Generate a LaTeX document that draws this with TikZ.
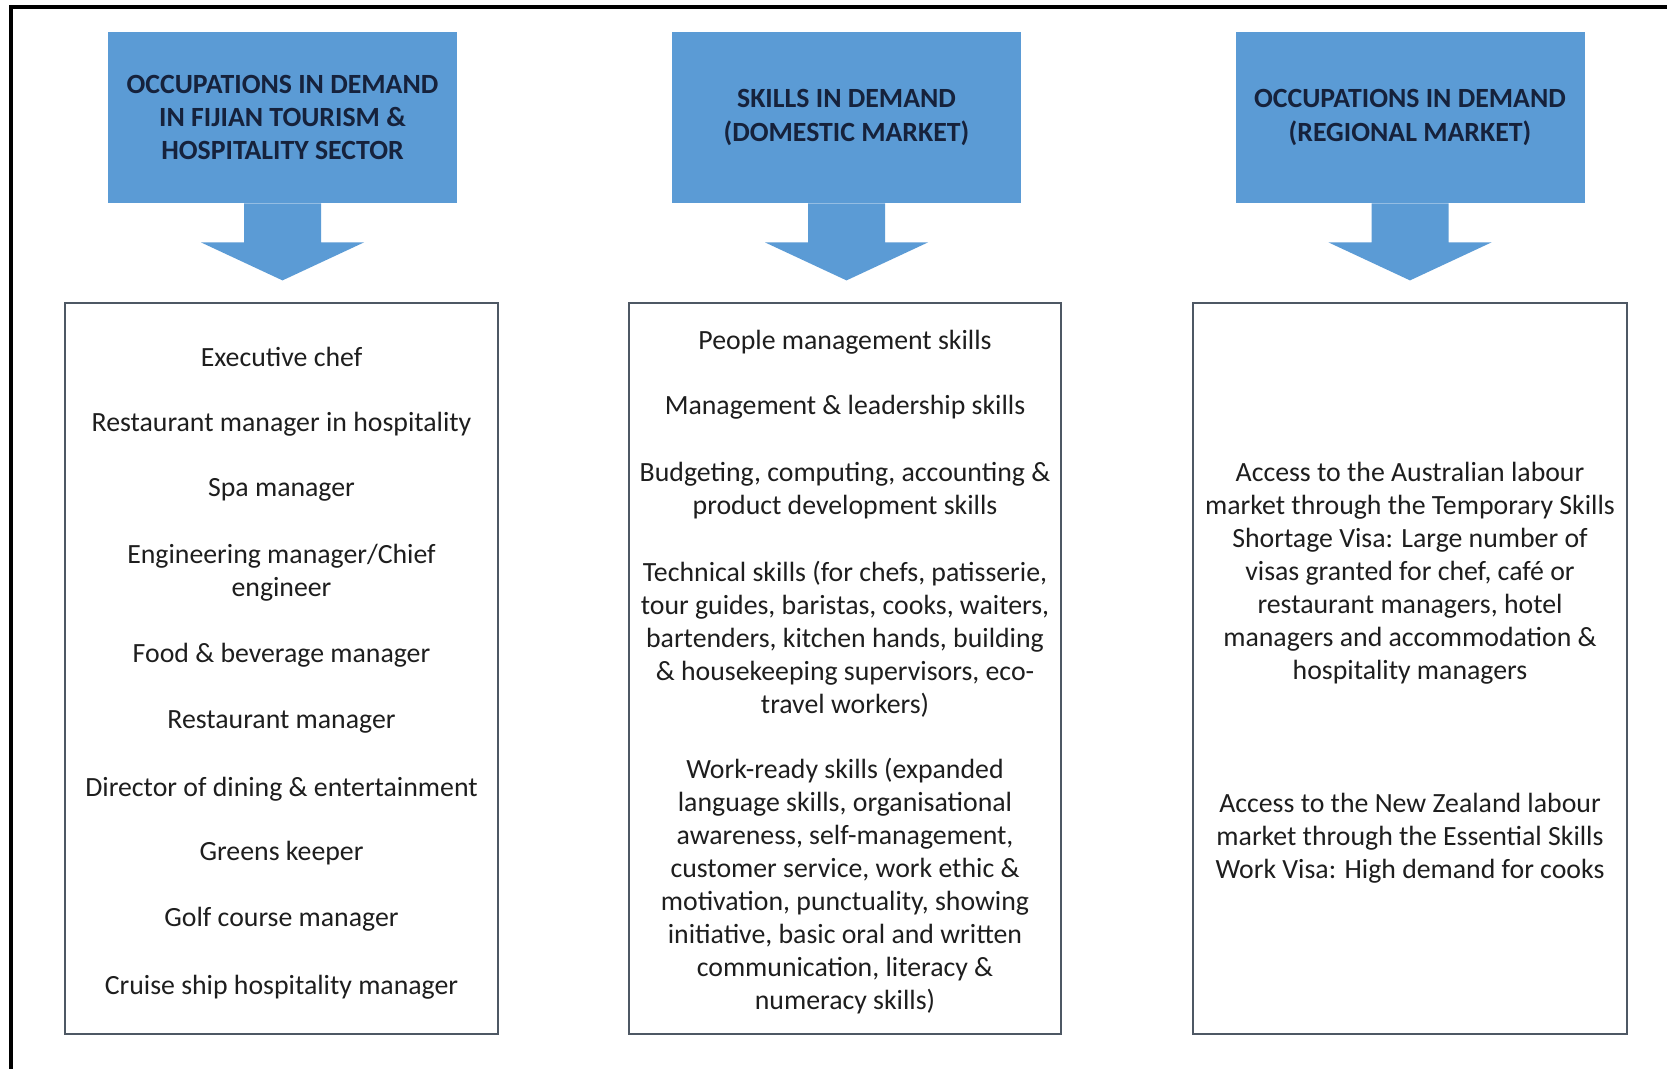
\documentclass[tikz,border=0pt]{standalone}
\usepackage{fontspec}
\setmainfont{Carlito}
\usetikzlibrary{calc}
\definecolor{hdrblue}{RGB}{91,155,213}
\definecolor{hdrtext}{RGB}{22,34,60}
\definecolor{boxline}{RGB}{78,88,100}
\definecolor{bodytext}{RGB}{30,30,30}
\begin{document}
\begin{tikzpicture}[x=0.5pt,y=-0.5pt,
  font=\fontsize{13.9pt}{16.5pt}\selectfont,
  headbox/.style={fill=hdrblue, inner sep=0pt, minimum width=174.5pt,
    minimum height=85.5pt, align=center, text=hdrtext, font=\fontsize{13.9pt}{16.6pt}\selectfont\bfseries},
  listbox/.style={draw=boxline, line width=1.3pt, fill=white, inner sep=0pt,
    minimum height=365.5pt},
  item/.style={align=center, text=bodytext, inner sep=0pt},
  downarrow/.style={fill=hdrblue}
]
\useasboundingbox (0,0) rectangle (1667,1069);
\fill[white] (0,0) rectangle (1667,1069);

% outer frame (top and left edges)
\draw[line width=2pt] (11,1069) -- (11,7) -- (1667,7);

% column headers
\node[headbox] (h1) at (282.5,117.5) {OCCUPATIONS IN DEMAND\\IN FIJIAN TOURISM \&\\HOSPITALITY SECTOR};
\node[headbox] (h2) at (846.5,117.5) {SKILLS IN DEMAND\\(DOMESTIC MARKET)};
\node[headbox] (h3) at (1410,117.5) {OCCUPATIONS IN DEMAND\\(REGIONAL MARKET)};

% block arrows below each header
\foreach \h in {h1,h2,h3}{
  \fill[downarrow] ($(\h.south)+(-38.5,0)$) -- ($(\h.south)+(38.5,0)$)
    -- ($(\h.south)+(38.5,39)$) -- ($(\h.south)+(81.5,39)$)
    -- ($(\h.south)+(0,77)$) -- ($(\h.south)+(-81.5,39)$)
    -- ($(\h.south)+(-38.5,39)$) -- cycle;
}

% list boxes
\node[listbox, minimum width=216.5pt] (b1) at (281.5,668.5) {};
\node[listbox, minimum width=216pt] (b2) at (845,668.5) {};
\node[listbox, minimum width=217pt] (b3) at (1410,668.5) {};

% occupations in the Fijian sector
\node[item] (o1)  at (281.5,357) {Executive chef};
\node[item] (o2)  at (281.5,424) {Restaurant manager in hospitality};
\node[item] (o3)  at (281.5,490) {Spa manager};
\node[item] (o4)  at (281.5,572.5) {Engineering manager/Chief\\engineer};
\node[item] (o5)  at (281.5,655) {Food \& beverage manager};
\node[item] (o6)  at (281.5,722) {Restaurant manager};
\node[item] (o7)  at (281.5,789) {Director of dining \& entertainment};
\node[item] (o8)  at (281.5,853) {Greens keeper};
\node[item] (o9)  at (281.5,919) {Golf course manager};
\node[item] (o10) at (281.5,987) {Cruise ship hospitality manager};

% domestic skills
\node[item] (s1) at (845,342) {People management skills};
\node[item] (s2) at (845,407) {Management \& leadership skills};
\node[item] (s3) at (845,490.5) {Budgeting, computing, accounting \&\\product development skills};
\node[item] (s4) at (845,639.5) {Technical skills (for chefs, patisserie,\\tour guides, baristas, cooks, waiters,\\bartenders, kitchen hands, building\\\& housekeeping supervisors, eco-\\travel workers)};
\node[item] (s5) at (845,886) {Work-ready skills (expanded\\language skills, organisational\\awareness, self-management,\\customer service, work ethic \&\\motivation, punctuality, showing\\initiative, basic oral and written\\communication, literacy \&\\numeracy skills)};

% regional market
\node[item] (r1) at (1410,573) {Access to the Australian labour\\market through the Temporary Skills\\Shortage Visa: Large number of\\visas granted for chef, café or\\restaurant managers, hotel\\managers and accommodation \&\\hospitality managers};
\node[item] (r2) at (1410,838) {Access to the New Zealand labour\\market through the Essential Skills\\Work Visa: High demand for cooks};
\end{tikzpicture}
\end{document}
